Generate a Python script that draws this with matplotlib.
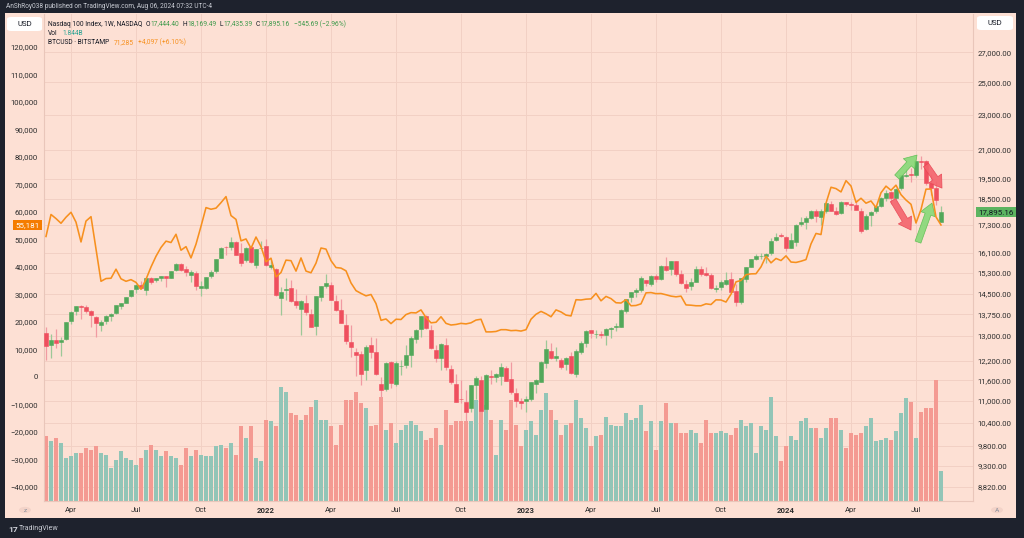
import numpy as np
import pandas as pd
import matplotlib
matplotlib.use("Agg")
import matplotlib.pyplot as plt
import matplotlib.transforms as mtransforms
from matplotlib.patches import Rectangle, FancyBboxPatch, Circle
from matplotlib.ticker import FixedLocator, FuncFormatter, NullLocator

plt.rcParams["font.family"] = ["Roboto", "DejaVu Sans"]

W, H = 1024, 538
DARK, PANEL, GRID, SEP = "#1e222d", "#fde0d4", "#f2d0c4", "#e9c6ba"
INK, INK2 = "#131722", "#2e2e2e"
UP, DOWN = "#52a85a", "#ef4f5e"
UP_WICK, DOWN_WICK = "#9dc897", "#f19aa2"
VOL_UP, VOL_DOWN = "#92c5b7", "#f49a92"
BTC_C = "#f7901e"

# ---- data: Nasdaq 100 weekly candles (week of 2021-03-01 .. week of 2024-08-05) ----
FIRST_WEEK = "2021-03-01"
ndx_open = [
    13090, 12700, 12880, 12790, 12900, 13500, 13860, 14030, 14010, 13880,
    13650, 13380, 13500, 13700, 13780, 14060, 14170, 14400, 14660, 14840,
    14650, 15100, 15010, 15090, 15170, 15100, 15400, 15670, 15450, 15200,
    15310, 14720, 14720, 15180, 15390, 15880, 16370, 16360, 16580, 16100,
    15800, 16340, 15600, 16300, 16400, 15540, 15470, 14340, 14630, 14700,
    14230, 13950, 14140, 13750, 13330, 14380, 14800, 14820, 14230, 13890,
    13360, 12800, 12470, 12400, 11900, 12700, 12490, 11480, 11340, 12170,
    11480, 12030, 12070, 12380, 12900, 13230, 13700, 13200, 12530, 12290,
    12720, 11930, 11500, 11060, 10960, 10800, 11470, 11610, 10760, 11720,
    11690, 11740, 11970, 11640, 11240, 10990, 11000, 11050, 11480, 11560,
    12140, 12520, 12300, 12230, 12100, 12340, 11800, 12480, 12770, 13200,
    13070, 13070, 13020, 13230, 13290, 13310, 13870, 14360, 14560, 14640,
    15020, 14880, 15160, 15050, 15580, 15440, 15760, 15270, 14880, 14780,
    14960, 15440, 15280, 15220, 14690, 14740, 14850, 15050, 14600, 14200,
    15050, 15550, 15860, 15980, 15990, 16090, 16650, 16880, 16800, 16320,
    16560, 17350, 17460, 17620, 17960, 17680, 17940, 18280, 17960, 17840,
    18350, 18260, 18230, 17960, 17120, 17750, 17940, 18150, 18570, 18840,
    18560, 19050, 19650, 19720, 19700, 20400, 20400, 19300, 19050, 17444.40,
]
ndx_high = [
    13300, 13070, 13230, 12960, 13480, 13850, 14060, 14080, 14080, 13900,
    13690, 13560, 13720, 13800, 14080, 14170, 14390, 14640, 14860, 14980,
    15080, 15130, 15100, 15190, 15180, 15390, 15700, 15700, 15560, 15400,
    15370, 14980, 15150, 15400, 15850, 16370, 16400, 16760, 16620, 16500,
    16360, 16400, 16260, 16600, 16680, 15830, 15500, 14750, 15100, 15000,
    14680, 14270, 14440, 13950, 14430, 14800, 15270, 14950, 14440, 14300,
    13750, 13360, 12600, 12520, 12690, 12980, 12940, 11700, 12150, 12190,
    12180, 12220, 12720, 12990, 13240, 13700, 13720, 13380, 12690, 12780,
    12950, 12080, 11800, 11620, 11310, 11470, 11720, 11720, 11780, 11900,
    11830, 12120, 12020, 12170, 11370, 11080, 11150, 11560, 11650, 12200,
    12880, 12760, 12650, 12300, 12310, 12470, 12560, 12850, 13190, 13220,
    13200, 13160, 13270, 13320, 13450, 13950, 14310, 14580, 14720, 15190,
    15030, 15200, 15250, 15630, 15930, 15770, 15780, 15400, 15020, 15100,
    15570, 15560, 15520, 15280, 14830, 15010, 15320, 15320, 14860, 15110,
    15540, 15860, 16060, 16100, 16110, 16720, 16970, 16970, 16840, 16970,
    17330, 17650, 17700, 17980, 18040, 18040, 18310, 18420, 18130, 18420,
    18360, 18370, 18460, 18060, 17810, 17950, 18190, 18620, 18940, 18900,
    19050, 19700, 20000, 20040, 20410, 20690, 20470, 19750, 19360, 18169.49,
]
ndx_low = [
    12210, 12300, 12600, 12350, 12880, 13400, 13730, 13600, 13780, 13290,
    12970, 13180, 13420, 13530, 13760, 13930, 14140, 14380, 14530, 14670,
    14450, 14850, 14940, 14990, 14740, 15080, 15390, 15380, 15160, 14960,
    14640, 14430, 14670, 15100, 15300, 15880, 16000, 16230, 16020, 15560,
    15740, 15680, 15480, 16290, 15580, 15450, 14430, 13720, 14260, 14200,
    13980, 13020, 13730, 13290, 13020, 14230, 14720, 14250, 13880, 13430,
    12730, 12330, 11720, 11470, 11620, 12290, 11770, 11070, 11280, 11380,
    11440, 11760, 11960, 12000, 12760, 12980, 13250, 12580, 12160, 11900,
    11920, 11500, 10960, 10950, 10440, 10700, 11060, 10680, 10690, 11500,
    11540, 11460, 11580, 11200, 10840, 10780, 10700, 11000, 11230, 11550,
    11970, 12240, 12180, 11950, 11900, 11800, 11700, 12400, 12640, 12950,
    12950, 12920, 12720, 12920, 13170, 13300, 13790, 14200, 14370, 14570,
    14770, 14780, 14950, 15020, 15370, 15220, 15180, 14860, 14560, 14650,
    14950, 15190, 15180, 14690, 14550, 14630, 14830, 14560, 14060, 14110,
    14960, 15530, 15810, 15850, 15690, 16010, 16610, 16770, 16170, 16300,
    16380, 17280, 17130, 17560, 17450, 17320, 17860, 17920, 17750, 17820,
    18170, 17980, 17990, 16970, 17080, 17280, 17860, 18130, 18400, 18290,
    18480, 18950, 19600, 19350, 19560, 20000, 19200, 18680, 18220, 17435.39,
]
ndx_close = [
    12668, 12880, 12780, 12860, 13480, 13845, 14041, 13996, 13860, 13720,
    13430, 13470, 13687, 13774, 14070, 14141, 14360, 14640, 14830, 14730,
    15080, 14960, 15100, 15170, 15080, 15370, 15650, 15420, 15330, 15320,
    14790, 14780, 15150, 15350, 15850, 16300, 16340, 16570, 16030, 15710,
    16330, 15720, 16250, 16320, 15600, 15610, 14440, 14570, 14660, 14230,
    14100, 14230, 13840, 13300, 14420, 14770, 14890, 14280, 13900, 13450,
    12850, 12640, 12380, 11780, 12640, 12490, 11780, 11300, 12130, 11530,
    12130, 12040, 12396, 12947, 13207, 13696, 13283, 12605, 12272, 12739,
    12016, 11553, 10971, 11041, 10693, 11457, 11669, 10706, 11757, 11707,
    11786, 12006, 11591, 11242, 11009, 10940, 11040, 11540, 11620, 12170,
    12570, 12300, 12360, 12010, 12300, 11830, 12520, 12770, 13180, 13100,
    13080, 13040, 13250, 13260, 13340, 13900, 14300, 14550, 14630, 15080,
    14890, 15180, 15040, 15570, 15420, 15760, 15270, 14890, 14700, 14940,
    15460, 15250, 15200, 14700, 14720, 14930, 15000, 14570, 14180, 15100,
    15530, 15840, 15980, 15990, 16080, 16620, 16780, 16830, 16310, 16630,
    17310, 17420, 17640, 17960, 17690, 17940, 18300, 17960, 17810, 18340,
    18250, 18200, 18000, 17040, 17720, 17890, 18160, 18550, 18800, 18540,
    19000, 19660, 19700, 19680, 20390, 20330, 19260, 19020, 18440, 17895.16,
]
# weekly volume, billions
ndx_volume = [
    3.9, 3.6, 3.8, 3.5, 2.6, 2.7, 2.9, 2.9, 3.2, 3.1,
    3.3, 2.9, 2.8, 2.0, 2.5, 3.0, 2.6, 2.5, 2.2, 2.6,
    3.1, 3.4, 3.1, 2.7, 3.0, 2.7, 2.6, 2.2, 3.2, 2.7,
    3.1, 2.8, 2.7, 2.7, 3.3, 3.4, 3.2, 3.5, 2.8, 4.5,
    3.8, 4.5, 2.6, 2.4, 4.9, 4.8, 4.5, 6.9, 6.6, 5.3,
    5.2, 4.9, 5.2, 5.7, 6.1, 4.9, 4.9, 4.5, 3.4, 4.6,
    6.1, 6.1, 6.6, 5.9, 5.6, 4.5, 4.6, 6.3, 4.3, 4.7,
    3.5, 4.3, 4.6, 4.8, 4.6, 4.2, 3.7, 3.8, 4.4, 3.4,
    5.5, 4.6, 4.8, 4.8, 4.8, 4.8, 6.1, 7.0, 5.8, 4.9,
    2.8, 4.9, 4.3, 6.1, 4.6, 3.3, 4.3, 4.8, 4.0, 5.5,
    6.5, 5.5, 4.9, 4.0, 4.6, 4.7, 6.1, 5.0, 4.4, 3.3,
    3.9, 4.0, 5.1, 4.6, 4.5, 4.5, 5.3, 4.9, 5.0, 5.8,
    4.2, 4.8, 3.1, 4.8, 5.9, 4.7, 4.7, 4.1, 4.1, 4.3,
    4.1, 3.5, 4.9, 4.1, 4.1, 4.2, 4.1, 4.0, 4.4, 4.9,
    4.5, 4.7, 2.9, 4.5, 4.3, 6.3, 3.9, 2.4, 3.3, 3.9,
    3.7, 4.8, 5.0, 4.4, 4.4, 3.8, 4.4, 5.0, 5.0, 4.3,
    3.2, 4.1, 4.0, 4.1, 4.5, 5.0, 3.6, 3.7, 3.8, 3.7,
    4.2, 5.3, 6.2, 6.0, 3.8, 5.4, 5.6, 5.6, 7.3, 1.8,
]
# BTCUSD weekly close (Bitstamp)
btc_close = [
    51000, 59000, 57500, 55800, 58000, 59800, 56200, 49000, 56600, 58200,
    46400, 34700, 35700, 35800, 39100, 35600, 34700, 35300, 34300, 31800,
    35400, 39900, 43800, 47000, 49300, 48800, 51800, 46000, 47300, 43200,
    48200, 54700, 61500, 60900, 61300, 63300, 65500, 58600, 57200, 49400,
    50100, 46700, 50800, 47300, 41800, 43100, 36300, 37900, 42400, 42200,
    38400, 43200, 38400, 37800, 41300, 46800, 46400, 42200, 39700, 39500,
    38500, 34100, 31300, 30300, 29400, 29900, 26600, 20500, 21000, 19300,
    20900, 20800, 22600, 23300, 23200, 24300, 21500, 19600, 19800, 21800,
    19400, 18800, 19000, 19400, 19200, 19600, 20600, 20900, 16300, 16300,
    16450, 17100, 17100, 16750, 16850, 16600, 17100, 20900, 22700, 23750,
    22900, 21800, 24300, 23550, 22400, 22100, 28000, 27900, 28200, 28300,
    30300, 27600, 29200, 28400, 26900, 26800, 28000, 25800, 25900, 26500,
    30500, 30600, 30200, 30250, 29800, 29300, 29050, 29300, 26100, 26000,
    25800, 25800, 26500, 26250, 27950, 27900, 27150, 30000, 34500, 35000,
    37100, 37400, 37450, 39950, 43800, 41400, 43000, 42250, 43950, 41700,
    41550, 42000, 42600, 48300, 52100, 51700, 63100, 68900, 68400, 67200,
    71300, 69350, 63400, 64900, 63100, 63900, 61500, 66900, 69300, 67800,
    69650, 66200, 64250, 62700, 55900, 60800, 68200, 68250, 58100, 55181,
]

# axis ticks
time_tick_dates = ["2021-04-05", "2021-07-05", "2021-10-04", "2022-01-03", "2022-04-04",
                   "2022-07-04", "2022-10-03", "2023-01-02", "2023-04-03", "2023-07-03",
                   "2023-10-02", "2024-01-01", "2024-04-01", "2024-07-01"]
time_tick_labels = ["Apr", "Jul", "Oct", "2022", "Apr", "Jul", "Oct", "2023",
                    "Apr", "Jul", "Oct", "2024", "Apr", "Jul"]
ndx_ticks = [8820, 9300, 9800, 10400, 11000, 11600, 12200, 13000, 13750, 14500,
             15300, 16100, 17300, 18500, 19500, 21000, 23000, 25000, 27000]
btc_ticks = [-40000, -30000, -20000, -10000, 0, 10000, 20000, 30000, 40000, 50000,
             60000, 70000, 80000, 90000, 100000, 110000, 120000]

# drawn arrows (bar index, price) tail -> tip
arrows = [((170.2, 19580), (174.2, 20720), "#86d977", "#5bbd50"),
          ((169.4, 18450), (173.0, 17080), "#f4636c", "#e84352"),
          ((174.4, 16560), (177.2, 18310), "#86d977", "#5bbd50"),
          ((176.0, 20200), (179.2, 19030), "#f4636c", "#e84352")]

# ---- figure ----
o, h, l, c = map(np.asarray, (ndx_open, ndx_high, ndx_low, ndx_close))
vol = np.asarray(ndx_volume)
x = np.arange(len(c))
weeks = pd.date_range(FIRST_WEEK, periods=len(c), freq="7D")
tick_pos = [weeks.get_loc(pd.Timestamp(d)) for d in time_tick_dates]
up = c >= o

def fp(px, py):
    return px / W, 1 - py / H

fig = plt.figure(figsize=(W / 100, H / 100), dpi=100, facecolor=DARK)
fig.add_artist(Rectangle(fp(5, 518), (1016 - 5) / W, (518 - 13) / H,
                         transform=fig.transFigure, fc=PANEL, ec="none", zorder=-10))

AX_L, AX_R, AX_T, AX_B = 44, 973, 14, 501
axN = fig.add_axes([AX_L / W, 1 - AX_B / H, (AX_R - AX_L) / W, (AX_B - AX_T) / H])
axN.set_facecolor(PANEL)
axN.set_yscale("log")
axB = axN.twinx()

# volume on its own hidden scale at the bottom of the pane
VOL_SPAN = 29.4
vol_tr = mtransforms.blended_transform_factory(
    axN.transData, mtransforms.Affine2D().scale(1, 1 / VOL_SPAN) + axN.transAxes)
axN.bar(x, vol, width=0.82, bottom=0, color=np.where(up, VOL_UP, VOL_DOWN),
        transform=vol_tr, zorder=1, lw=0)

# candles
axN.vlines(x, l, h, colors=np.where(up, UP_WICK, DOWN_WICK), lw=0.9, zorder=2)
axN.bar(x, np.abs(c - o), bottom=np.minimum(o, c), width=0.68,
        color=np.where(up, UP, DOWN), edgecolor=np.where(up, UP, DOWN), lw=0.4, zorder=3)
axN.set_xlim(-0.4, 185.4)
axN.set_ylim(8500, 29800)

# right axis (Nasdaq, log)
axN.yaxis.tick_right()
axN.yaxis.set_label_position("right")
axN.yaxis.set_major_locator(FixedLocator(ndx_ticks))
axN.yaxis.set_minor_locator(NullLocator())
axN.yaxis.set_major_formatter(FuncFormatter(lambda v, p: f"{v:,.2f}"))
axN.tick_params(axis="y", which="both", left=False, labelleft=False, right=True,
                labelright=True, length=0, pad=3.4, labelsize=5.6, labelcolor=INK2)
axN.set_xticks(tick_pos)
axN.set_xticklabels(time_tick_labels)
axN.tick_params(axis="x", length=0, pad=4.2, labelsize=5.6, labelcolor=INK2)
for t, lab in zip(axN.get_xticklabels(), time_tick_labels):
    if lab.isdigit():
        t.set_fontweight("bold")
axN.grid(True, color=GRID, lw=0.7)
axN.set_axisbelow(True)
axN.spines["top"].set_visible(False)
for s in ("left", "right", "bottom"):
    axN.spines[s].set_color(SEP)
    axN.spines[s].set_linewidth(0.8)

# BTC line on the left linear scale
axB.plot(x, btc_close, color=BTC_C, lw=1.15, zorder=5, solid_joinstyle="round")
axB.set_ylim(-45200, 131900)
axB.yaxis.tick_left()
axB.yaxis.set_major_locator(FixedLocator(btc_ticks))
axB.yaxis.set_major_formatter(FuncFormatter(
    lambda v, p: "0" if v == 0 else f"{v:,.0f}".replace("-", "\u2212")))
axB.tick_params(axis="y", right=False, labelright=False, left=True, labelleft=True,
                length=0, pad=4.3, labelsize=5.6, labelcolor=INK2)
for s in axB.spines.values():
    s.set_visible(False)

# drawn arrows
for (tail, tip, fc, ec) in arrows:
    axN.annotate("", xy=tip, xytext=tail, zorder=6,
                 arrowprops=dict(arrowstyle="simple,head_length=0.5,head_width=0.65,tail_width=0.26",
                                 fc=fc, ec=ec, lw=0.5, alpha=0.9, mutation_scale=17,
                                 shrinkA=0, shrinkB=0))

# last-value labels
axB.text(-0.0178, btc_close[-1], f"{btc_close[-1]:,}", color="white", fontsize=5.8,
         ha="center", va="center",
         transform=mtransforms.blended_transform_factory(axB.transAxes, axB.transData),
         bbox=dict(boxstyle="square,pad=0.3", fc="#f57c00", ec="none"), clip_on=False, zorder=10)
axN.text(1.0245, c[-1], f"{c[-1]:,.2f}", color=INK, fontsize=5.8, ha="center", va="center",
         transform=mtransforms.blended_transform_factory(axN.transAxes, axN.transData),
         bbox=dict(boxstyle="square,pad=0.3", fc="#5cb460", ec="none"), clip_on=False, zorder=10)

# USD boxes
for (bx, by, bw) in ((7, 17, 35), (977, 16, 36)):
    fig.add_artist(FancyBboxPatch(fp(bx, by + 14), bw / W, 14 / H, transform=fig.transFigure,
                                  boxstyle="round,pad=0,rounding_size=0.004", fc="white", ec="none"))
    fig.text(*fp(bx + bw / 2, by + 7), "USD", fontsize=5.6, color=INK, ha="center", va="center")

# bottom buttons
for (bx, ch) in ((25, "z"), (997, "A")):
    fig.add_artist(Circle(fp(bx, 510), 6 / W, transform=fig.transFigure, fc="#f3d3c8", ec="none"))
    fig.text(*fp(bx, 510), ch, fontsize=4.6, color="#8a8f9c", ha="center", va="center")

# header / footer
fig.text(*fp(6, 7), "AnShRoy038 published on TradingView.com, Aug 06, 2024 07:32 UTC-4",
         fontsize=4.7, color="#c9ccd4", va="center")
fig.text(*fp(8, 529), "17", fontsize=6, color="#d1d4dc", va="center", fontweight="bold")
fig.text(*fp(19, 529), "TradingView", fontsize=5.1, color="#c9ccd4", va="center")

# legend: pieces laid out left to right, gap (px) before each piece
GREEN_TXT, TEAL_TXT, ORANGE_TXT = "#3f9a4c", "#2aa293", "#f7901e"
legend_rows = [
    (24.0, [("Nasdaq 100 Index, 1W, NASDAQ", INK, 0), ("O", INK, 3.5), ("17,444.40", GREEN_TXT, 0),
            ("H", INK, 3.5), ("18,169.49", GREEN_TXT, 0), ("L", INK, 3.5),
            ("17,435.39", GREEN_TXT, 0), ("C", INK, 3.5), ("17,895.16", GREEN_TXT, 0),
            ("\u2212545.69 (\u22122.96%)", GREEN_TXT, 4)]),
    (33.3, [("Vol", INK, 0), ("1.844B", TEAL_TXT, 4.5)]),
    (42.7, [("BTCUSD \u00b7 BITSTAMP", INK, 0), ("71,285", ORANGE_TXT, 4.5),
            ("+4,097 (+6.10%)", ORANGE_TXT, 4)]),
]
renderer = fig.canvas.get_renderer()
for ly, pieces in legend_rows:
    cx = 48.0
    for s, col, gap in pieces:
        cx += gap
        t = fig.text(*fp(cx, ly), s, fontsize=4.8, color=col, va="center", ha="left")
        cx += t.get_window_extent(renderer).width

fig.savefig("out.png", dpi=100, facecolor=DARK)
